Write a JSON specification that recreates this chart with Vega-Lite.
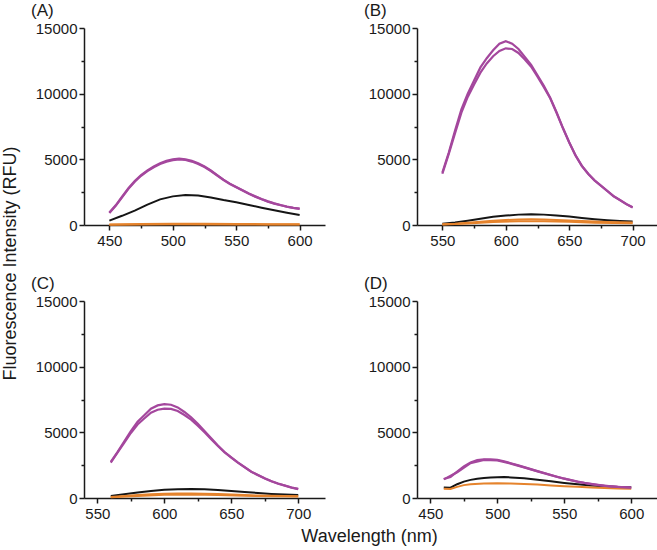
{
"$schema":"https://vega.github.io/schema/vega-lite/v6.json",
"background":"white",
"padding":{"left":1,"top":2,"right":2,"bottom":2},
"columns":2,
"spacing":{"row":76,"column":92},
"bounds":"flush",
"datasets":{
"A":[
{"s":"m1","x":450,"y":950},{"s":"m1","x":455,"y":1500},{"s":"m1","x":460,"y":2150},{"s":"m1","x":465,"y":2800},{"s":"m1","x":470,"y":3350},{"s":"m1","x":475,"y":3800},{"s":"m1","x":480,"y":4150},{"s":"m1","x":485,"y":4450},{"s":"m1","x":490,"y":4700},{"s":"m1","x":495,"y":4880},{"s":"m1","x":500,"y":5000},{"s":"m1","x":505,"y":5050},{"s":"m1","x":510,"y":5000},{"s":"m1","x":515,"y":4880},{"s":"m1","x":520,"y":4700},{"s":"m1","x":525,"y":4450},{"s":"m1","x":530,"y":4150},{"s":"m1","x":535,"y":3800},{"s":"m1","x":540,"y":3450},{"s":"m1","x":545,"y":3150},{"s":"m1","x":550,"y":2900},{"s":"m1","x":555,"y":2650},{"s":"m1","x":560,"y":2400},{"s":"m1","x":565,"y":2180},{"s":"m1","x":570,"y":1980},{"s":"m1","x":575,"y":1800},{"s":"m1","x":580,"y":1650},{"s":"m1","x":585,"y":1520},{"s":"m1","x":590,"y":1400},{"s":"m1","x":595,"y":1310},{"s":"m1","x":600,"y":1250},
{"s":"m2","x":450,"y":920},{"s":"m2","x":455,"y":1460},{"s":"m2","x":460,"y":2100},{"s":"m2","x":465,"y":2750},{"s":"m2","x":470,"y":3300},{"s":"m2","x":475,"y":3750},{"s":"m2","x":480,"y":4100},{"s":"m2","x":485,"y":4400},{"s":"m2","x":490,"y":4640},{"s":"m2","x":495,"y":4820},{"s":"m2","x":500,"y":4940},{"s":"m2","x":505,"y":4990},{"s":"m2","x":510,"y":4950},{"s":"m2","x":515,"y":4830},{"s":"m2","x":520,"y":4650},{"s":"m2","x":525,"y":4410},{"s":"m2","x":530,"y":4110},{"s":"m2","x":535,"y":3770},{"s":"m2","x":540,"y":3420},{"s":"m2","x":545,"y":3120},{"s":"m2","x":550,"y":2870},{"s":"m2","x":555,"y":2620},{"s":"m2","x":560,"y":2380},{"s":"m2","x":565,"y":2160},{"s":"m2","x":570,"y":1960},{"s":"m2","x":575,"y":1780},{"s":"m2","x":580,"y":1630},{"s":"m2","x":585,"y":1500},{"s":"m2","x":590,"y":1390},{"s":"m2","x":595,"y":1300},{"s":"m2","x":600,"y":1230},
{"s":"k","x":450,"y":330},{"s":"k","x":460,"y":700},{"s":"k","x":470,"y":1100},{"s":"k","x":480,"y":1550},{"s":"k","x":490,"y":1950},{"s":"k","x":500,"y":2180},{"s":"k","x":510,"y":2280},{"s":"k","x":520,"y":2250},{"s":"k","x":530,"y":2100},{"s":"k","x":540,"y":1900},{"s":"k","x":550,"y":1730},{"s":"k","x":560,"y":1530},{"s":"k","x":570,"y":1320},{"s":"k","x":580,"y":1120},{"s":"k","x":590,"y":930},{"s":"k","x":600,"y":760},
{"s":"o1","x":450,"y":40},{"s":"o1","x":475,"y":70},{"s":"o1","x":500,"y":90},{"s":"o1","x":525,"y":90},{"s":"o1","x":550,"y":80},{"s":"o1","x":575,"y":65},{"s":"o1","x":600,"y":50},
{"s":"o2","x":450,"y":20},{"s":"o2","x":500,"y":50},{"s":"o2","x":550,"y":40},{"s":"o2","x":600,"y":30}
],
"B":[
{"s":"m1","x":550,"y":4000},{"s":"m1","x":555,"y":5500},{"s":"m1","x":560,"y":7200},{"s":"m1","x":565,"y":8800},{"s":"m1","x":570,"y":10000},{"s":"m1","x":575,"y":11000},{"s":"m1","x":580,"y":12000},{"s":"m1","x":585,"y":12700},{"s":"m1","x":590,"y":13300},{"s":"m1","x":595,"y":13800},{"s":"m1","x":600,"y":14000},{"s":"m1","x":605,"y":13800},{"s":"m1","x":610,"y":13400},{"s":"m1","x":615,"y":12800},{"s":"m1","x":620,"y":12200},{"s":"m1","x":625,"y":11400},{"s":"m1","x":630,"y":10600},{"s":"m1","x":635,"y":9700},{"s":"m1","x":640,"y":8600},{"s":"m1","x":645,"y":7400},{"s":"m1","x":650,"y":6300},{"s":"m1","x":655,"y":5300},{"s":"m1","x":660,"y":4500},{"s":"m1","x":665,"y":3900},{"s":"m1","x":670,"y":3400},{"s":"m1","x":675,"y":3000},{"s":"m1","x":680,"y":2600},{"s":"m1","x":685,"y":2200},{"s":"m1","x":690,"y":1900},{"s":"m1","x":695,"y":1600},{"s":"m1","x":700,"y":1350},
{"s":"m2","x":550,"y":3900},{"s":"m2","x":555,"y":5400},{"s":"m2","x":560,"y":7000},{"s":"m2","x":565,"y":8550},{"s":"m2","x":570,"y":9750},{"s":"m2","x":575,"y":10700},{"s":"m2","x":580,"y":11600},{"s":"m2","x":585,"y":12300},{"s":"m2","x":590,"y":12850},{"s":"m2","x":595,"y":13250},{"s":"m2","x":600,"y":13450},{"s":"m2","x":605,"y":13400},{"s":"m2","x":610,"y":13100},{"s":"m2","x":615,"y":12600},{"s":"m2","x":620,"y":12050},{"s":"m2","x":625,"y":11300},{"s":"m2","x":630,"y":10500},{"s":"m2","x":635,"y":9650},{"s":"m2","x":640,"y":8550},{"s":"m2","x":645,"y":7380},{"s":"m2","x":650,"y":6280},{"s":"m2","x":655,"y":5290},{"s":"m2","x":660,"y":4490},{"s":"m2","x":665,"y":3890},{"s":"m2","x":670,"y":3390},{"s":"m2","x":675,"y":2990},{"s":"m2","x":680,"y":2590},{"s":"m2","x":685,"y":2190},{"s":"m2","x":690,"y":1890},{"s":"m2","x":695,"y":1590},{"s":"m2","x":700,"y":1340},
{"s":"k","x":550,"y":100},{"s":"k","x":560,"y":200},{"s":"k","x":570,"y":330},{"s":"k","x":580,"y":480},{"s":"k","x":590,"y":620},{"s":"k","x":600,"y":720},{"s":"k","x":610,"y":790},{"s":"k","x":620,"y":810},{"s":"k","x":630,"y":790},{"s":"k","x":640,"y":730},{"s":"k","x":650,"y":640},{"s":"k","x":660,"y":540},{"s":"k","x":670,"y":440},{"s":"k","x":680,"y":360},{"s":"k","x":690,"y":300},{"s":"k","x":700,"y":260},
{"s":"o1","x":550,"y":60},{"s":"o1","x":560,"y":100},{"s":"o1","x":570,"y":170},{"s":"o1","x":580,"y":250},{"s":"o1","x":590,"y":320},{"s":"o1","x":600,"y":380},{"s":"o1","x":610,"y":420},{"s":"o1","x":620,"y":430},{"s":"o1","x":630,"y":420},{"s":"o1","x":640,"y":390},{"s":"o1","x":650,"y":350},{"s":"o1","x":660,"y":300},{"s":"o1","x":670,"y":260},{"s":"o1","x":680,"y":230},{"s":"o1","x":690,"y":210},{"s":"o1","x":700,"y":190},
{"s":"o2","x":550,"y":40},{"s":"o2","x":570,"y":110},{"s":"o2","x":590,"y":220},{"s":"o2","x":610,"y":290},{"s":"o2","x":630,"y":290},{"s":"o2","x":650,"y":240},{"s":"o2","x":670,"y":180},{"s":"o2","x":700,"y":130}
],
"C":[
{"s":"m1","x":560,"y":2750},{"s":"m1","x":565,"y":3500},{"s":"m1","x":570,"y":4300},{"s":"m1","x":575,"y":5100},{"s":"m1","x":580,"y":5800},{"s":"m1","x":585,"y":6300},{"s":"m1","x":590,"y":6800},{"s":"m1","x":595,"y":7050},{"s":"m1","x":600,"y":7150},{"s":"m1","x":605,"y":7100},{"s":"m1","x":610,"y":6900},{"s":"m1","x":615,"y":6550},{"s":"m1","x":620,"y":6150},{"s":"m1","x":625,"y":5650},{"s":"m1","x":630,"y":5100},{"s":"m1","x":635,"y":4550},{"s":"m1","x":640,"y":4000},{"s":"m1","x":645,"y":3500},{"s":"m1","x":650,"y":3100},{"s":"m1","x":655,"y":2700},{"s":"m1","x":660,"y":2350},{"s":"m1","x":665,"y":2000},{"s":"m1","x":670,"y":1750},{"s":"m1","x":675,"y":1500},{"s":"m1","x":680,"y":1280},{"s":"m1","x":685,"y":1100},{"s":"m1","x":690,"y":950},{"s":"m1","x":695,"y":800},{"s":"m1","x":700,"y":690},
{"s":"m2","x":560,"y":2700},{"s":"m2","x":565,"y":3450},{"s":"m2","x":570,"y":4200},{"s":"m2","x":575,"y":4950},{"s":"m2","x":580,"y":5600},{"s":"m2","x":585,"y":6050},{"s":"m2","x":590,"y":6500},{"s":"m2","x":595,"y":6720},{"s":"m2","x":600,"y":6800},{"s":"m2","x":605,"y":6780},{"s":"m2","x":610,"y":6620},{"s":"m2","x":615,"y":6320},{"s":"m2","x":620,"y":5960},{"s":"m2","x":625,"y":5500},{"s":"m2","x":630,"y":5000},{"s":"m2","x":635,"y":4480},{"s":"m2","x":640,"y":3960},{"s":"m2","x":645,"y":3470},{"s":"m2","x":650,"y":3080},{"s":"m2","x":655,"y":2690},{"s":"m2","x":660,"y":2340},{"s":"m2","x":665,"y":1990},{"s":"m2","x":670,"y":1740},{"s":"m2","x":675,"y":1490},{"s":"m2","x":680,"y":1270},{"s":"m2","x":685,"y":1090},{"s":"m2","x":690,"y":940},{"s":"m2","x":695,"y":790},{"s":"m2","x":700,"y":680},
{"s":"k","x":560,"y":150},{"s":"k","x":570,"y":280},{"s":"k","x":580,"y":420},{"s":"k","x":590,"y":540},{"s":"k","x":600,"y":620},{"s":"k","x":610,"y":670},{"s":"k","x":620,"y":680},{"s":"k","x":630,"y":660},{"s":"k","x":640,"y":610},{"s":"k","x":650,"y":530},{"s":"k","x":660,"y":450},{"s":"k","x":670,"y":380},{"s":"k","x":680,"y":310},{"s":"k","x":690,"y":260},{"s":"k","x":700,"y":220},
{"s":"o1","x":560,"y":80},{"s":"o1","x":570,"y":150},{"s":"o1","x":580,"y":220},{"s":"o1","x":590,"y":280},{"s":"o1","x":600,"y":320},{"s":"o1","x":610,"y":340},{"s":"o1","x":620,"y":345},{"s":"o1","x":630,"y":330},{"s":"o1","x":640,"y":300},{"s":"o1","x":650,"y":260},{"s":"o1","x":660,"y":220},{"s":"o1","x":670,"y":190},{"s":"o1","x":680,"y":170},{"s":"o1","x":690,"y":150},{"s":"o1","x":700,"y":140},
{"s":"o2","x":560,"y":60},{"s":"o2","x":580,"y":160},{"s":"o2","x":600,"y":240},{"s":"o2","x":620,"y":260},{"s":"o2","x":640,"y":230},{"s":"o2","x":660,"y":170},{"s":"o2","x":680,"y":130},{"s":"o2","x":700,"y":110}
],
"D":[
{"s":"m1","x":460,"y":1450},{"s":"m1","x":465,"y":1600},{"s":"m1","x":470,"y":2000},{"s":"m1","x":475,"y":2400},{"s":"m1","x":480,"y":2700},{"s":"m1","x":485,"y":2880},{"s":"m1","x":490,"y":2950},{"s":"m1","x":495,"y":2950},{"s":"m1","x":500,"y":2900},{"s":"m1","x":505,"y":2800},{"s":"m1","x":510,"y":2650},{"s":"m1","x":515,"y":2500},{"s":"m1","x":520,"y":2350},{"s":"m1","x":525,"y":2200},{"s":"m1","x":530,"y":2050},{"s":"m1","x":535,"y":1900},{"s":"m1","x":540,"y":1750},{"s":"m1","x":545,"y":1600},{"s":"m1","x":550,"y":1480},{"s":"m1","x":555,"y":1360},{"s":"m1","x":560,"y":1250},{"s":"m1","x":565,"y":1150},{"s":"m1","x":570,"y":1070},{"s":"m1","x":575,"y":1000},{"s":"m1","x":580,"y":940},{"s":"m1","x":585,"y":890},{"s":"m1","x":590,"y":850},{"s":"m1","x":595,"y":820},{"s":"m1","x":600,"y":800},
{"s":"m2","x":460,"y":1420},{"s":"m2","x":470,"y":1960},{"s":"m2","x":480,"y":2650},{"s":"m2","x":490,"y":2900},{"s":"m2","x":500,"y":2860},{"s":"m2","x":510,"y":2620},{"s":"m2","x":520,"y":2330},{"s":"m2","x":530,"y":2030},{"s":"m2","x":540,"y":1740},{"s":"m2","x":550,"y":1470},{"s":"m2","x":560,"y":1240},{"s":"m2","x":570,"y":1060},{"s":"m2","x":580,"y":930},{"s":"m2","x":590,"y":840},{"s":"m2","x":600,"y":790},
{"s":"k","x":460,"y":800},{"s":"k","x":465,"y":780},{"s":"k","x":470,"y":1050},{"s":"k","x":475,"y":1250},{"s":"k","x":480,"y":1380},{"s":"k","x":485,"y":1460},{"s":"k","x":490,"y":1520},{"s":"k","x":495,"y":1560},{"s":"k","x":500,"y":1580},{"s":"k","x":505,"y":1590},{"s":"k","x":510,"y":1570},{"s":"k","x":520,"y":1500},{"s":"k","x":530,"y":1390},{"s":"k","x":540,"y":1270},{"s":"k","x":550,"y":1150},{"s":"k","x":560,"y":1050},{"s":"k","x":570,"y":960},{"s":"k","x":580,"y":890},{"s":"k","x":590,"y":840},{"s":"k","x":600,"y":820},
{"s":"o1","x":460,"y":700},{"s":"o1","x":465,"y":680},{"s":"o1","x":470,"y":850},{"s":"o1","x":475,"y":980},{"s":"o1","x":480,"y":1050},{"s":"o1","x":490,"y":1100},{"s":"o1","x":500,"y":1120},{"s":"o1","x":510,"y":1110},{"s":"o1","x":520,"y":1070},{"s":"o1","x":530,"y":1020},{"s":"o1","x":540,"y":960},{"s":"o1","x":550,"y":900},{"s":"o1","x":560,"y":850},{"s":"o1","x":570,"y":800},{"s":"o1","x":580,"y":760},{"s":"o1","x":590,"y":730},{"s":"o1","x":600,"y":710}
]
},
"concat":[
{"width":241,"height":197,"data":{"name":"A"},"title":{"text":"(A)"},
"layer":[
{"transform":[{"filter":"datum.s[0]!='m'"}],"mark":{"type":"line","strokeWidth":2},
"encoding":{"x":{"field":"x","type":"quantitative","scale":{"domain":[430,620],"nice":false,"zero":false},"axis":{"values":[450,500,550,600],"format":"d","title":null}},
"y":{"field":"y","type":"quantitative","scale":{"domain":[0,15000],"nice":false},"axis":{"values":[0,5000,10000,15000],"format":"d","title":"Fluorescence Intensity (RFU)","titleX":-74,"titleY":235,"titleAlign":"center","titleBaseline":"middle","titleAngle":270}},
"color":{"field":"s","type":"nominal","scale":{"domain":["m1","m2","k","o1","o2"],"range":["#a4479d","#a4479d","#151515","#e5832c","#e5832c"]},"legend":null}}},
{"transform":[{"filter":"datum.s[0]=='m'"}],"mark":{"type":"line","strokeWidth":2.2},
"encoding":{"x":{"field":"x","type":"quantitative","axis":{"orient":"bottom","values":[475,525,575],"labels":false,"domain":false,"tickSize":3,"title":null}},
"y":{"field":"y","type":"quantitative","axis":{"orient":"left","values":[2500,7500,12500],"labels":false,"domain":false,"tickSize":3,"title":null}},
"color":{"field":"s","type":"nominal","legend":null}}}
],
"resolve":{"axis":{"x":"independent","y":"independent"}}},
{"width":241,"height":197,"data":{"name":"B"},"title":{"text":"(B)"},
"layer":[
{"transform":[{"filter":"datum.s[0]!='m'"}],"mark":{"type":"line","strokeWidth":2},
"encoding":{"x":{"field":"x","type":"quantitative","scale":{"domain":[530,720],"nice":false,"zero":false},"axis":{"values":[550,600,650,700],"format":"d","title":null}},
"y":{"field":"y","type":"quantitative","scale":{"domain":[0,15000],"nice":false},"axis":{"values":[0,5000,10000,15000],"format":"d","title":null}},
"color":{"field":"s","type":"nominal","scale":{"domain":["m1","m2","k","o1","o2"],"range":["#a4479d","#a4479d","#151515","#e5832c","#e5832c"]},"legend":null}}},
{"transform":[{"filter":"datum.s[0]=='m'"}],"mark":{"type":"line","strokeWidth":2.2},
"encoding":{"x":{"field":"x","type":"quantitative","axis":{"orient":"bottom","values":[575,625,675],"labels":false,"domain":false,"tickSize":3,"title":null}},
"y":{"field":"y","type":"quantitative","axis":{"orient":"left","values":[2500,7500,12500],"labels":false,"domain":false,"tickSize":3,"title":null}},
"color":{"field":"s","type":"nominal","legend":null}}}
],
"resolve":{"axis":{"x":"independent","y":"independent"}}},
{"width":241,"height":197,"data":{"name":"C"},"title":{"text":"(C)"},
"layer":[
{"transform":[{"filter":"datum.s[0]!='m'"}],"mark":{"type":"line","strokeWidth":2},
"encoding":{"x":{"field":"x","type":"quantitative","scale":{"domain":[540,720],"nice":false,"zero":false},"axis":{"values":[550,600,650,700],"format":"d","title":"Wavelength (nm)","titleX":285,"titleY":43,"titleAlign":"center","titleBaseline":"alphabetic"}},
"y":{"field":"y","type":"quantitative","scale":{"domain":[0,15000],"nice":false},"axis":{"values":[0,5000,10000,15000],"format":"d","title":null}},
"color":{"field":"s","type":"nominal","scale":{"domain":["m1","m2","k","o1","o2"],"range":["#a4479d","#a4479d","#151515","#e5832c","#e5832c"]},"legend":null}}},
{"transform":[{"filter":"datum.s[0]=='m'"}],"mark":{"type":"line","strokeWidth":2.2},
"encoding":{"x":{"field":"x","type":"quantitative","axis":{"orient":"bottom","values":[575,625,675],"labels":false,"domain":false,"tickSize":3,"title":null}},
"y":{"field":"y","type":"quantitative","axis":{"orient":"left","values":[2500,7500,12500],"labels":false,"domain":false,"tickSize":3,"title":null}},
"color":{"field":"s","type":"nominal","legend":null}}}
],
"resolve":{"axis":{"x":"independent","y":"independent"}}},
{"width":241,"height":197,"data":{"name":"D"},"title":{"text":"(D)"},
"layer":[
{"transform":[{"filter":"datum.s[0]!='m'"}],"mark":{"type":"line","strokeWidth":2},
"encoding":{"x":{"field":"x","type":"quantitative","scale":{"domain":[440,620],"nice":false,"zero":false},"axis":{"values":[450,500,550,600],"format":"d","title":null}},
"y":{"field":"y","type":"quantitative","scale":{"domain":[0,15000],"nice":false},"axis":{"values":[0,5000,10000,15000],"format":"d","title":null}},
"color":{"field":"s","type":"nominal","scale":{"domain":["m1","m2","k","o1","o2"],"range":["#a4479d","#a4479d","#151515","#e5832c","#e5832c"]},"legend":null}}},
{"transform":[{"filter":"datum.s[0]=='m'"}],"mark":{"type":"line","strokeWidth":2.2},
"encoding":{"x":{"field":"x","type":"quantitative","axis":{"orient":"bottom","values":[475,525,575],"labels":false,"domain":false,"tickSize":3,"title":null}},
"y":{"field":"y","type":"quantitative","axis":{"orient":"left","values":[2500,7500,12500],"labels":false,"domain":false,"tickSize":3,"title":null}},
"color":{"field":"s","type":"nominal","legend":null}}}
],
"resolve":{"axis":{"x":"independent","y":"independent"}}}
],
"config":{
"font":"Liberation Sans",
"numberFormat":"d",
"view":{"stroke":null},
"axis":{"labelFont":"Liberation Sans","labelFontSize":15,"labelColor":"#1a1a1a","domainColor":"#1a1a1a","tickColor":"#1a1a1a","domainWidth":1.5,"tickWidth":1.5,"tickSize":5,"grid":false,"labelPadding":2,"titleFont":"Liberation Sans","titleFontSize":18,"titleFontWeight":"normal","titleColor":"#1a1a1a"},
"axisX":{"labelPadding":3},
"title":{"anchor":"start","frame":"group","dx":-53,"font":"Liberation Sans","fontSize":17,"fontWeight":"normal","color":"#1a1a1a","offset":1}
}
}
